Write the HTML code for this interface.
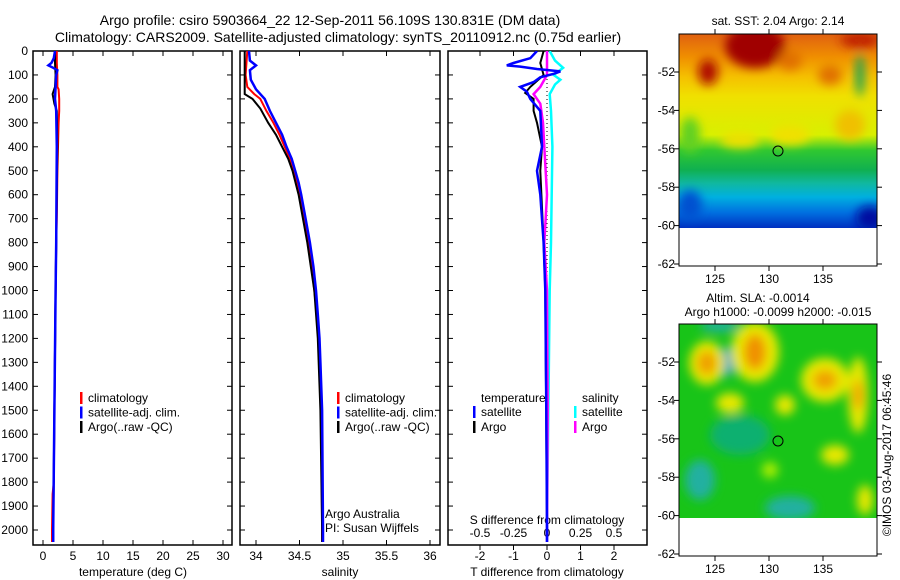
<!DOCTYPE html>
<html><head><meta charset="utf-8"><style>
html,body{margin:0;padding:0;background:#fff}
svg{display:block;font-family:"Liberation Sans",sans-serif}
</style></head><body>
<svg id="c" width="900" height="580" viewBox="0 0 900 580">
<defs>
<linearGradient id="sstg" x1="0" y1="0" x2="0" y2="1">
<stop offset="0" stop-color="#e06010"/><stop offset="0.12" stop-color="#f09000"/><stop offset="0.22" stop-color="#f5c000"/>
<stop offset="0.32" stop-color="#f0e000"/><stop offset="0.52" stop-color="#d8f000"/><stop offset="0.6" stop-color="#30c830"/>
<stop offset="0.7" stop-color="#10b050"/><stop offset="0.77" stop-color="#10b8a0"/><stop offset="0.84" stop-color="#00b0e0"/>
<stop offset="0.92" stop-color="#0070e0"/><stop offset="1" stop-color="#0030c0"/></linearGradient>
<filter id="bl" x="-20%" y="-20%" width="140%" height="140%"><feGaussianBlur stdDeviation="5"/></filter>
<clipPath id="c1"><rect x="679" y="34" width="198" height="194"/></clipPath>
<clipPath id="c2"><rect x="679" y="324" width="198" height="194"/></clipPath>
<clipPath id="p1"><rect x="33" y="51" width="199" height="494"/></clipPath>
<clipPath id="p2"><rect x="240" y="51" width="200" height="494"/></clipPath>
<clipPath id="p3"><rect x="448" y="51" width="199" height="494"/></clipPath>
</defs>
<text x="330" y="25" font-size="14" text-anchor="middle">Argo profile: csiro 5903664_22 12-Sep-2011 56.109S 130.831E (DM data)</text>
<text x="338" y="42" font-size="14" text-anchor="middle">Climatology: CARS2009. Satellite-adjusted climatology: synTS_20110912.nc (0.75d earlier)</text>

<g id="maps">
<g clip-path="url(#c1)">
<rect x="679" y="34" width="198" height="194" fill="url(#sstg)"/>
<g filter="url(#bl)">
<ellipse cx="755" cy="46" rx="30" ry="22" fill="#a00000"/>
<ellipse cx="708" cy="72" rx="10" ry="13" fill="#b01000"/>
<ellipse cx="860" cy="40" rx="20" ry="8" fill="#c02000"/>
<ellipse cx="790" cy="60" rx="12" ry="10" fill="#e07000"/>
<ellipse cx="830" cy="75" rx="12" ry="10" fill="#e07000"/>
<ellipse cx="860" cy="75" rx="4" ry="22" fill="#00a060"/>
<ellipse cx="690" cy="135" rx="10" ry="18" fill="#60d020"/>
<ellipse cx="740" cy="140" rx="20" ry="8" fill="#f0e000"/>
<ellipse cx="790" cy="135" rx="20" ry="10" fill="#f0e000"/>
<ellipse cx="850" cy="125" rx="15" ry="15" fill="#f0c000"/>
<ellipse cx="870" cy="218" rx="14" ry="12" fill="#0010a0"/>
<ellipse cx="690" cy="205" rx="12" ry="15" fill="#0050d0"/>
</g></g>
<rect x="679" y="34" width="198" height="232" fill="none" stroke="#000"/>
<circle cx="778" cy="151" r="5" fill="none" stroke="#000"/>
<text x="778" y="25" font-size="12" text-anchor="middle">sat. SST: 2.04 Argo: 2.14</text>

<g clip-path="url(#c2)">
<rect x="679" y="324" width="198" height="194" fill="#18c418"/>
<g filter="url(#bl)">
<ellipse cx="700" cy="480" rx="15" ry="20" fill="#20b0a0"/>
<ellipse cx="727" cy="362" rx="8" ry="14" fill="#10a0d0"/>
<ellipse cx="740" cy="435" rx="30" ry="20" fill="#10b070"/>
<ellipse cx="790" cy="508" rx="25" ry="12" fill="#20b0a0"/>
<ellipse cx="720" cy="326" rx="20" ry="6" fill="#20b0a0"/>
<ellipse cx="707" cy="363" rx="18" ry="22" fill="#e8e800"/>
<ellipse cx="707" cy="363" rx="10" ry="12" fill="#f0a000"/>
<ellipse cx="755" cy="352" rx="24" ry="30" fill="#e8e800"/>
<ellipse cx="755" cy="352" rx="11" ry="18" fill="#f09000"/>
<ellipse cx="825" cy="380" rx="24" ry="22" fill="#e8e800"/>
<ellipse cx="825" cy="380" rx="12" ry="10" fill="#f0a000"/>
<ellipse cx="858" cy="395" rx="10" ry="38" fill="#e8e800"/>
<ellipse cx="858" cy="395" rx="5" ry="15" fill="#f0a000"/>
<ellipse cx="730" cy="403" rx="14" ry="10" fill="#e8e800"/>
<ellipse cx="785" cy="405" rx="10" ry="10" fill="#e8e800"/>
<ellipse cx="835" cy="455" rx="14" ry="10" fill="#e8e800"/>
<ellipse cx="865" cy="500" rx="8" ry="15" fill="#e8e800"/>
<ellipse cx="770" cy="470" rx="8" ry="8" fill="#b0f000"/>
</g></g>
<rect x="679" y="324" width="198" height="232" fill="none" stroke="#000"/>
<circle cx="778" cy="441" r="5" fill="none" stroke="#000"/>
<text x="758" y="302" font-size="12" text-anchor="middle">Altim. SLA: -0.0014</text>
<text x="778" y="316" font-size="12" text-anchor="middle">Argo h1000: -0.0099 h2000: -0.015</text>
<text transform="translate(891,455) rotate(-90)" font-size="12" text-anchor="middle">©IMOS 03-Aug-2017 06:45:46</text>
</g>
</svg>
<script>
// ---- data ----
const depthTicks=[0,100,200,300,400,500,600,700,800,900,1000,1100,1200,1300,1400,1500,1600,1700,1800,1900,2000];
const tempTicks=[0,5,10,15,20,25,30];
const salTicks=[34,34.5,35,35.5,36];
const tdTicks=[-2,-1,0,1,2];
const sdTicks=[-0.5,-0.25,0,0.25,0.5];
const sdTickLabels=["-0.5","-0.25","0","0.25","0.5"];
const latTicks=[-52,-54,-56,-58,-60,-62];
const lonTicks=[125,130,135];

const tClimDepth=[0,50,100,150,160,200,250,300,400,500,700,800,1000,1500,1800,1850,2000,2050];
const tClim=[2.3,2.3,2.4,2.4,2.6,2.7,2.7,2.6,2.5,2.4,2.3,2.2,2.1,1.9,1.8,1.6,1.5,1.5];
const tSatDepth=[0,30,50,60,70,80,100,150,200,250,400,800,1000,1500,2000,2050];
const tSat=[2.0,1.8,1.4,0.9,1.7,2.4,2.2,2.1,2.0,2.2,2.3,2.2,2.1,1.9,1.7,1.7];
const tArgoDepth=[0,50,100,150,180,220,250,400,800,1000,1500,2000,2050];
const tArgo=[2.0,2.0,2.1,2.0,1.6,1.9,2.3,2.4,2.2,2.1,1.9,1.7,1.7];

const sClimDepth=[0,100,150,180,200,250,300,350,400,450,500,550,600,700,800,900,1000,1100,1200,1300,1500,2000,2050];
const sClim=[33.90,33.88,33.90,33.98,34.05,34.12,34.20,34.27,34.33,34.39,34.43,34.47,34.50,34.55,34.60,34.64,34.67,34.70,34.72,34.73,34.75,34.76,34.76];
const sSatDepth=[0,40,60,80,120,160,200,250,300,350,400,450,500,550,600,700,800,900,1000,1100,1200,1300,1500,2000,2050];
const sSat=[33.92,33.93,34.00,33.93,33.94,34.00,34.10,34.16,34.23,34.30,34.35,34.41,34.45,34.49,34.52,34.57,34.62,34.66,34.69,34.71,34.73,34.74,34.76,34.77,34.77];
const sArgoDepth=[0,180,200,240,300,350,400,450,500,600,800,1000,1200,1500,2000,2050];
const sArgo=[33.87,33.87,33.96,34.05,34.14,34.23,34.30,34.37,34.42,34.49,34.59,34.67,34.71,34.74,34.76,34.76];

const dTSatDepth=[0,30,50,60,65,75,85,95,110,130,150,170,200,250,400,500,600,800,1000,1500,2000,2050];
const dTSat=[-0.3,-0.5,-1.0,-1.2,-0.8,-0.3,0.4,0.2,-0.2,-0.4,-0.8,-0.6,-0.5,-0.2,-0.15,-0.3,-0.2,-0.1,-0.05,-0.02,0,0];
const dTArgoDepth=[0,50,100,150,175,200,250,300,400,500,800,1000,2000,2050];
const dTArgo=[-0.1,-0.2,-0.1,-0.5,-0.65,-0.4,-0.4,-0.3,-0.15,-0.2,-0.1,-0.05,0,0];
const dSSatDepth=[0,40,70,100,120,140,180,250,400,800,1000,2000,2050];
const dSSat=[0.02,0.06,0.12,0.05,0.1,0.06,0.02,0.03,0.04,0.03,0.02,0,0];
const dSArgoDepth=[0,100,150,180,220,300,400,600,800,1000,1500,2000,2050];
const dSArgo=[0,0,-0.05,-0.1,-0.05,-0.03,-0.02,0,-0.02,0,0.005,0,0];

// ---- axes ----
const NS='http://www.w3.org/2000/svg';
const svg=document.getElementById('c');
const Y=d=>51+d*0.2395;
const xT=v=>43+v*6;
const xS=v=>256+(v-34)*87;
const xDT=v=>547+v*33.5;
const xDS=v=>547+v*134;
function mk(tag,at,parent){const e=document.createElementNS(NS,tag);for(const k in at)e.setAttribute(k,at[k]);(parent||svg).appendChild(e);return e;}
function txt(x,y,s,anchor,size){const t=mk('text',{x:x,y:y,'font-size':size||12,'text-anchor':anchor||'middle'});t.textContent=s;return t;}

const panels=[[33,232],[240,440],[448,647]];
panels.forEach((p,i)=>{
  const r=mk('rect',{x:p[0],y:51,width:p[1]-p[0],height:494,fill:'none',stroke:'#000','stroke-width':1.5});
  
  
  depthTicks.forEach(d=>{
    mk('line',{x1:p[0],x2:p[0]+5,y1:Y(d),y2:Y(d),stroke:'#000'});
    mk('line',{x1:p[1]-5,x2:p[1],y1:Y(d),y2:Y(d),stroke:'#000'});
  });
});
depthTicks.forEach(d=>{const t=txt(28,Y(d)+4,String(d),'end');
  
  });
tempTicks.forEach(v=>{const x=xT(v);mk('line',{x1:x,x2:x,y1:51,y2:56,stroke:'#000'});mk('line',{x1:x,x2:x,y1:540,y2:545,stroke:'#000'});
  const t=txt(x,560,String(v));
  
  });
salTicks.forEach(v=>{const x=xS(v);mk('line',{x1:x,x2:x,y1:51,y2:56,stroke:'#000'});mk('line',{x1:x,x2:x,y1:540,y2:545,stroke:'#000'});
  const t=txt(x,560,String(v));
  
  });
tdTicks.forEach(v=>{const x=xDT(v);mk('line',{x1:x,x2:x,y1:545,y2:550,stroke:'#000'});
  const t=txt(x,560,String(v));
  
  });
sdTicks.forEach((v,i)=>{const x=xDS(v);mk('line',{x1:x,x2:x,y1:51,y2:56,stroke:'#000'});
  const t=txt(x,537,sdTickLabels[i]);
  
  });
[['temperature (deg C)',133],['salinity',340],['T difference from climatology',547]].forEach(a=>{
  const t=txt(a[1],576,a[0]);
  
  });
let st=txt(547,524,'S difference from climatology');


st=txt(325,518,'Argo Australia','start');


st=txt(325,532,'PI: Susan Wijffels','start');



const z=mk('line',{x1:xDT(0),x2:xDT(0),y1:Y(100),y2:Y(2050),stroke:'#000','stroke-dasharray':'1,3'});



function series(depths,vals,xf,color,w,clip,name){
  const pts=depths.map((d,i)=>xf(vals[i]).toFixed(1)+','+Y(d).toFixed(1)).join(' ');
  const pl=mk('polyline',{points:pts,fill:'none',stroke:color,'stroke-width':w,'clip-path':'url(#'+clip+')'});
  
  
}
series(tClimDepth,tClim,xT,'#f00',2,'p1','temp-climatology-line');
series(tArgoDepth,tArgo,xT,'#000',2,'p1','temp-argo-line');
series(tSatDepth,tSat,xT,'#00f',2.5,'p1','temp-satellite-line');
series(sClimDepth,sClim,xS,'#f00',2,'p2','sal-climatology-line');
series(sArgoDepth,sArgo,xS,'#000',2,'p2','sal-argo-line');
series(sSatDepth,sSat,xS,'#00f',2.5,'p2','sal-satellite-line');
series(dSSatDepth,dSSat,xDS,'#0ff',2.5,'p3','sdiff-satellite-line');
series(dTArgoDepth,dTArgo,xDT,'#000',2,'p3','tdiff-argo-line');
series(dSArgoDepth,dSArgo,xDS,'#f0f',2.5,'p3','sdiff-argo-line');
series(dTSatDepth,dTSat,xDT,'#00f',2.5,'p3','tdiff-satellite-line');

function leg(x,y,color,label){
  const g=mk('g',{});
  
  
  mk('rect',{x:x,y:y-10,width:2.5,height:12,fill:color},g);
  const t=mk('text',{x:x+8,y:y,'font-size':12},g);t.textContent=label;
}
[[80,'#f00','climatology'],[80,'#00f','satellite-adj. clim.'],[80,'#000','Argo(..raw -QC)']].forEach((a,i)=>leg(a[0],402+i*14.5,a[1],a[2]));
[[337,'#f00','climatology'],[337,'#00f','satellite-adj. clim.'],[337,'#000','Argo(..raw -QC)']].forEach((a,i)=>leg(a[0],402+i*14.5,a[1],a[2]));
let lt=txt(481,402,'temperature','start');


lt=txt(582,402,'salinity','start');


leg(473,416,'#00f','satellite');leg(473,431,'#000','Argo');
leg(574,416,'#0ff','satellite');leg(574,431,'#f0f','Argo');

const latY=l=>72+(-52-l)*19.2;
const lonX=l=>715+(l-125)*10.8;
[0,290].forEach((off,m)=>{
  latTicks.forEach(l=>{const y=latY(l)+off;
    mk('line',{x1:674,x2:679,y1:y,y2:y,stroke:'#000'});mk('line',{x1:877,x2:882,y1:y,y2:y,stroke:'#000'});
    const t=txt(675,y+4,String(l),'end');
    
    });
  lonTicks.forEach(l=>{const x=lonX(l);
    mk('line',{x1:x,x2:x,y1:29+off,y2:34+off,stroke:'#000'});mk('line',{x1:x,x2:x,y1:266+off,y2:271+off,stroke:'#000'});
    const t=txt(x,283+off,String(l));
    
    });
});
</script>
</body></html>
